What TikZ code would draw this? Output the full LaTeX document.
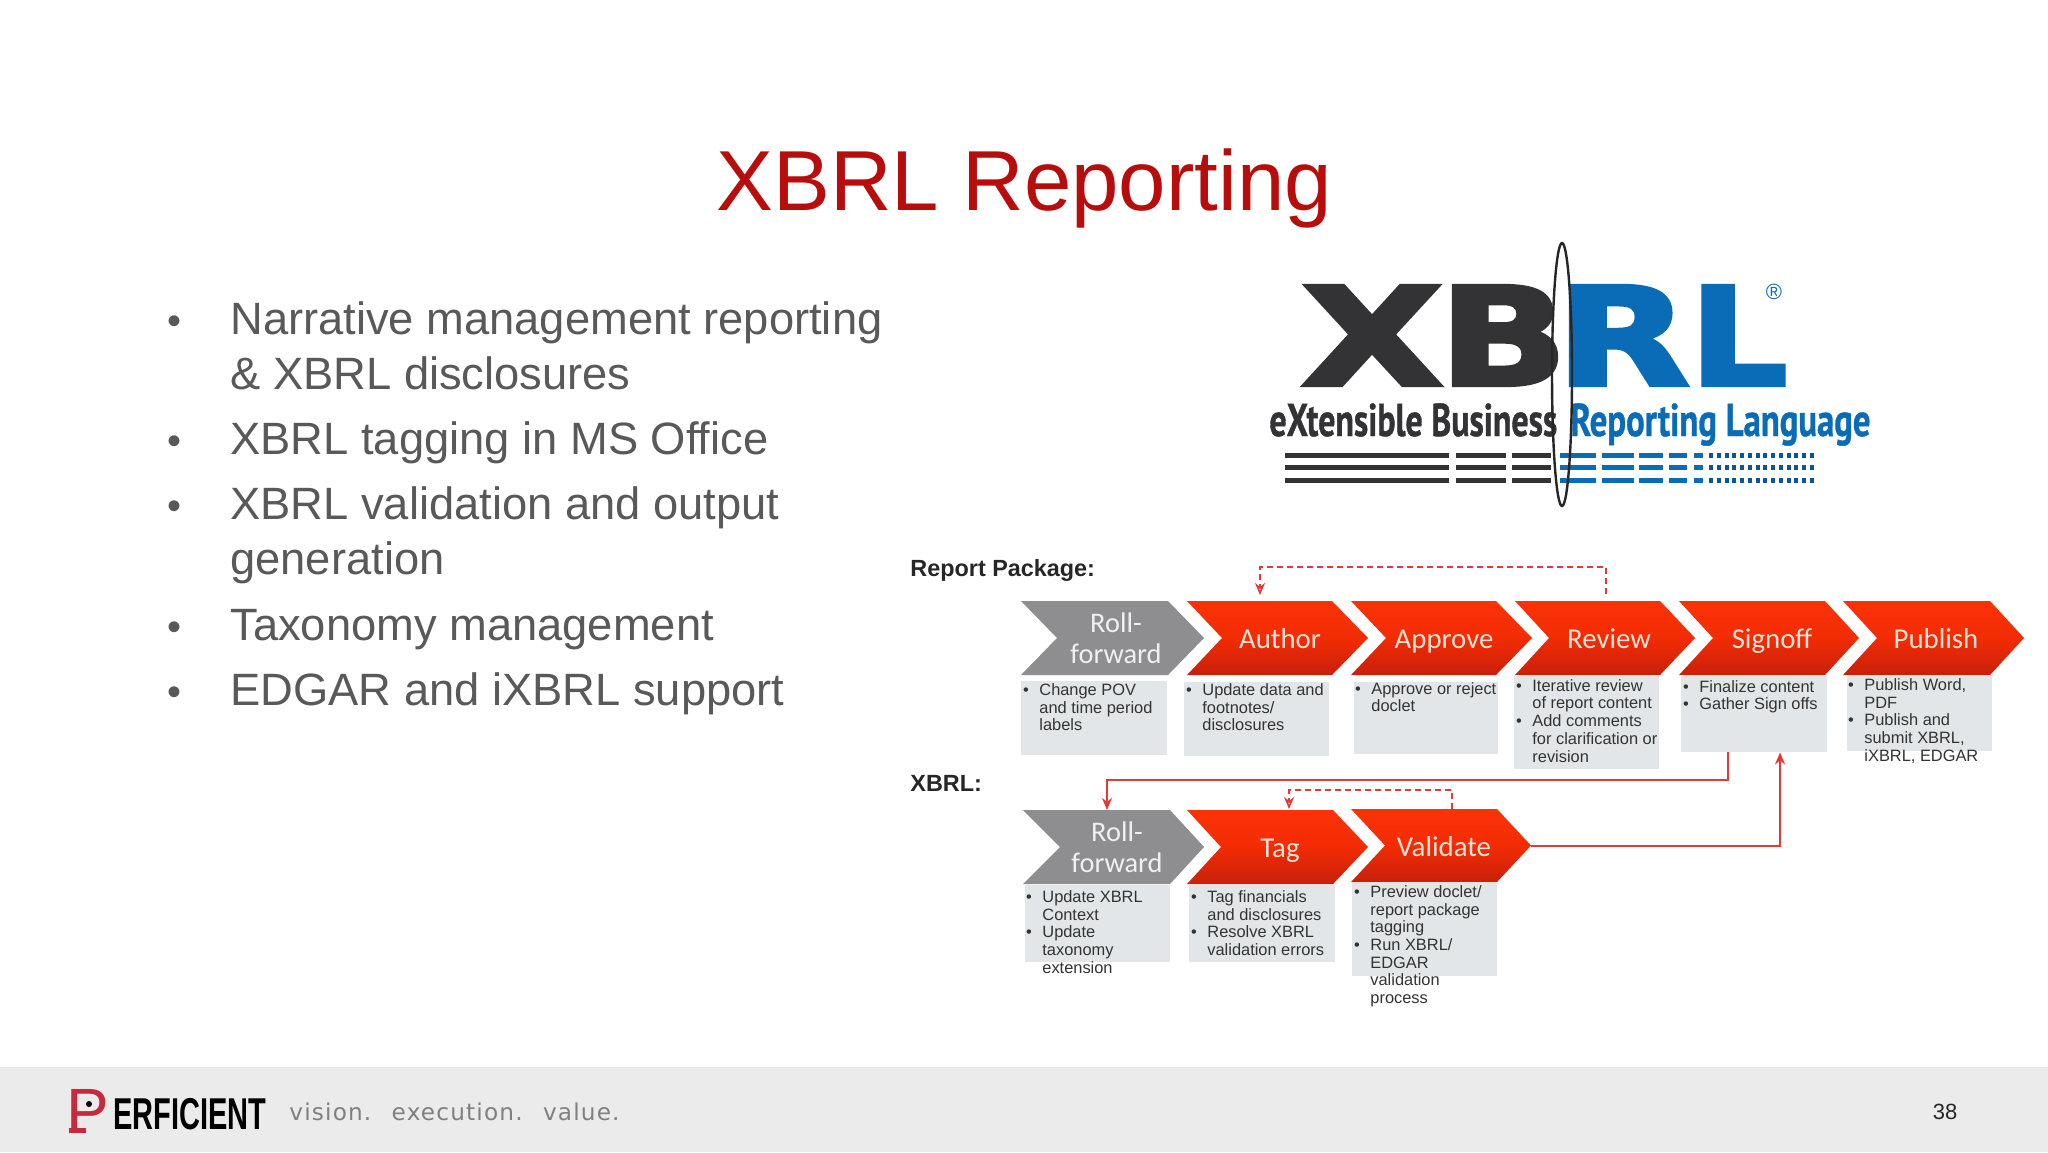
\documentclass[tikz,border=0pt]{standalone}
\usepackage{graphicx}
\usepackage{fontspec}
\setmainfont{Liberation Sans}
\newfontfamily\lgf[BoldFeatures={FakeBold=3}]{DejaVu Sans}
\newfontfamily\ptf[BoldFeatures={FakeBold=1}]{PT Sans}
\newfontfamily\crl{Carlito}
\newfontfamily\tgf[LetterSpace=5]{DejaVu Sans}
\usetikzlibrary{arrows.meta}
\definecolor{ttl}{HTML}{B80D0D}
\definecolor{bodyc}{HTML}{595959}
\definecolor{linkc}{HTML}{E23A34}
\definecolor{logod}{HTML}{333336}
\definecolor{logob}{HTML}{0A6CB6}
\definecolor{boxc}{HTML}{E2E6E8}
\definecolor{footc}{HTML}{EBEBEB}
\definecolor{chevg}{HTML}{8E8E90}
\definecolor{smalltxt}{HTML}{333333}
\definecolor{chevtop}{HTML}{FB3208}
\definecolor{chevmid}{HTML}{F22C04}
\definecolor{chevbot}{HTML}{C8200C}
\definecolor{chevtxt}{HTML}{FBE3D6}
\definecolor{plogo}{HTML}{C62A3C}
\tikzset{
  bodyline/.style={anchor=base west,inner sep=0pt,text=bodyc,font=\fontsize{22.65}{26}\selectfont},
  dotb/.style={anchor=base,inner sep=0pt,text=bodyc,font=\fontsize{20}{26}\selectfont},
  infobox/.style={fill=boxc,draw=none,inner sep=0pt},
  infotext/.style={anchor=north west,inner sep=0pt,align=left,text=smalltxt,font=\fontsize{8.2}{8.85}\selectfont},
  redchev/.style={top color=chevtop,bottom color=chevbot,middle color=chevmid,draw=none},
  graychev/.style={fill=chevg,draw=none},
  chevred/.style={inner sep=0pt,text=chevtxt,text height=9pt,text depth=0pt,font=\crl\fontsize{14.4}{15}\selectfont},
  chevgray/.style={inner sep=0pt,text=gray!12!white,align=center,font=\crl\fontsize{14.2}{15.3}\selectfont},
  sect/.style={anchor=base west,inner sep=0pt,text=black!85,font=\bfseries\fontsize{11.7}{13}\selectfont},
  link/.style={draw=linkc,line width=1pt},
  linkd/.style={draw=linkc,line width=.8pt,densely dashed},
  tipped/.style={-{Stealth[length=6pt,width=5pt,open]}},
}
\newcommand{\chev}[7]{\path[#1] (#2,#6) -- (#4,#6) -- (#5,{(#6+#7)/2}) -- (#4,#7) -- (#2,#7) -- (#3,{(#6+#7)/2}) -- cycle;}
\newcommand{\infobox}[5]{\node[infobox,minimum width={(#4-#2)*0.5pt},minimum height={(#5-#3)*0.5pt}] (#1) at ({(#2+#4)/2},{(#3+#5)/2}) {};}
\newcommand{\bul}{\leavevmode\llap{•\hspace{5.3pt}}}
\begin{document}
\begin{tikzpicture}[x=0.5pt,y=-0.5pt]
\useasboundingbox (0,0) rectangle (2048,1152);
\fill[white] (0,0) rectangle (2048,1152);
% footer
\fill[footc] (0,1067) rectangle (2048,1152);
\node[anchor=base west,inner sep=0pt,text=black,font=\bfseries\fontsize{22.3}{24}\selectfont] (perf) at (66,1129)
  {\textcolor{plogo}{\raisebox{-2pt}{\fontsize{32}{32}\mdseries\selectfont P}}\hspace{2pt}\scalebox{.65}[1]{ERFICIENT}};
\fill[plogo] (69,1128) rectangle (86,1133);
\fill[black] (89,1104) circle (3);
\node[anchor=base west,inner sep=0pt,text=gray,font=\tgf\fontsize{11.6}{13}\selectfont] (tagline) at (289,1120)
  {vision.\hspace{4.5pt} execution.\hspace{4.5pt} value.};
\node[anchor=base,inner sep=0pt,text=black!85,font=\fontsize{11}{13}\selectfont] (pageno) at (1945,1119) {38};
% title
\node[anchor=base west,inner sep=0pt,text=ttl,font=\fontsize{42.6}{48}\selectfont] (title) at (716,210) {XBRL Reporting};
% bullets
\node[dotb] (b1) at (174,334) {•};
\node[bodyline] (t1a) at (230,334) {Narrative management reporting};
\node[bodyline] (t1b) at (230,389) {\& XBRL disclosures};
\node[dotb] (b2) at (174,454) {•};
\node[bodyline] (t2) at (230,454) {XBRL tagging in MS Office};
\node[dotb] (b3) at (174,519) {•};
\node[bodyline] (t3a) at (230,519) {XBRL validation and output};
\node[bodyline] (t3b) at (230,574) {generation};
\node[dotb] (b4) at (174,640) {•};
\node[bodyline] (t4) at (230,640) {Taxonomy management};
\node[dotb] (b5) at (174,705) {•};
\node[bodyline] (t5) at (230,705) {EDGAR and iXBRL support};
% logo
\node[anchor=base west,inner sep=0pt,font=\lgf\bfseries\fontsize{68}{68}\selectfont] (logo) at (1301,385)
  {\textcolor{logod}{\scalebox{1.35}[1]{X}\hspace{-2pt}\scalebox{1.24}[1]{B}}\hspace{-6pt}\textcolor{logob}{\scalebox{1.28}[1]{R}\hspace{0pt}\scalebox{1.13}[1]{L}}};
\node[inner sep=0pt,text=logob,font=\fontsize{11}{11}\selectfont] (regm) at (1774,292) {®};
\node[anchor=base west,inner sep=0pt,text=logod,font=\ptf\bfseries\fontsize{23}{24}\selectfont] (ext) at (1269,436) {\scalebox{.737}[1]{eXtensible Business}};
\node[anchor=base west,inner sep=0pt,text=logob,font=\ptf\bfseries\fontsize{23}{24}\selectfont] (rep) at (1570,436) {\scalebox{.755}[1]{Reporting Language}};
\foreach \yy in {455,467,480}{
  \foreach \xa/\xb in {1285/1449,1456/1506,1512/1551}{\fill[logod] (\xa,\yy-2.5) rectangle (\xb,\yy+2.5);}
  \foreach \xa/\xb in {1560/1596,1602/1634,1639/1663,1669/1687,1694/1703}{\fill[logob] (\xa,\yy-2.5) rectangle (\xb,\yy+2.5);}
  \foreach \i in {0,...,13}{\fill[logob!80!black] ({1709+\i*7.75},\yy-2.5) rectangle ({1713+\i*7.75},\yy+2.5);}
}
\draw[black!85,line width=1.2pt] (1562,374.5) ellipse (10 and 131.5);
% section labels
\node[sect] (rp) at (910,576) {Report Package:};
\node[sect] (xb) at (910,791) {XBRL:};
% row 1 chevrons
\chev{graychev}{1021}{1057}{1168}{1204}{601}{675}
\chev{redchev}{1187}{1222}{1332}{1368}{601}{675}
\chev{redchev}{1351}{1386}{1496}{1532}{601}{675}
\chev{redchev}{1515}{1549}{1660}{1695}{601}{675}
\chev{redchev}{1679}{1713}{1825}{1859}{601}{675}
\chev{redchev}{1843}{1877}{1990}{2024}{601}{675}
\node[chevgray] (rf1) at (1116,638) {Roll-\\forward};
\node[chevred] (author) at (1280,639) {Author};
\node[chevred] (approve) at (1444,639) {Approve};
\node[chevred] (review) at (1609,639) {Review};
\node[chevred] (signoff) at (1772,639) {Signoff};
\node[chevred] (publish) at (1936,639) {Publish};
\coordinate (authorT) at (1260,601);
\coordinate (reviewT) at (1606,594);
% row 1 boxes
\infobox{box1}{1021}{681}{1167}{755}
\infobox{box2}{1184}{682}{1329}{756}
\infobox{box3}{1354}{682}{1498}{754}
\infobox{box4}{1514}{675}{1659}{769}
\infobox{box5}{1681}{675}{1827}{752}
\infobox{box6}{1847}{675}{1992}{751}
\node[infotext] (tx1) at (1039,683) {\bul Change POV\\and time period\\labels};
\node[infotext] (tx2) at (1202,683) {\bul Update data and\\footnotes/\\disclosures};
\node[infotext] (tx3) at (1371,682) {\bul Approve or reject\\doclet};
\node[infotext] (tx4) at (1532,679) {\bul Iterative review\\of report content\\\bul Add comments\\for clarification or\\revision};
\node[infotext] (tx5) at (1699,680) {\bul Finalize content\\\bul Gather Sign offs};
\node[infotext] (tx6) at (1864,678) {\bul Publish Word,\\PDF\\\bul Publish and\\submit XBRL,\\iXBRL, EDGAR};
% row 2 chevrons
\chev{graychev}{1023}{1060}{1170}{1204}{810}{884}
\chev{redchev}{1187}{1221}{1333}{1368}{810}{884}
\chev{redchev}{1351}{1385}{1497}{1531}{809}{882}
\node[chevgray] (rf2) at (1117,847) {Roll-\\forward};
\node[chevred] (tag) at (1280,848) {Tag};
\node[chevred] (validate) at (1444,847) {Validate};
\coordinate (rf2T) at (1107,810);
\coordinate (tagT) at (1289,809);
\coordinate (valT) at (1452,809);
\coordinate (valTip) at (1531,846);
% row 2 boxes
\infobox{box7}{1025}{885}{1170}{962}
\infobox{box8}{1189}{885}{1335}{962}
\infobox{box9}{1352}{883}{1497}{976}
\node[infotext] (tx7) at (1042,890) {\bul Update XBRL\\Context\\\bul Update\\taxonomy\\extension};
\node[infotext] (tx8) at (1207,890) {\bul Tag financials\\and disclosures\\\bul Resolve XBRL\\validation errors};
\node[infotext] (tx9) at (1370,885) {\bul Preview doclet/\\report package\\tagging\\\bul Run XBRL/\\EDGAR\\validation\\process};
% connectors
\draw[linkd,tipped] (reviewT) -- ++(0,-27) -| ([yshift=3pt]authorT);
\draw[linkd,tipped] (valT) -- ++(0,-19) -| (tagT);
\draw[link,tipped] ([xshift=-13pt]box5.south) -- ++(0,28) -| (rf2T);
\draw[link,tipped] (valTip) -| ([xshift=13pt]box5.south);
\end{tikzpicture}
\end{document}
